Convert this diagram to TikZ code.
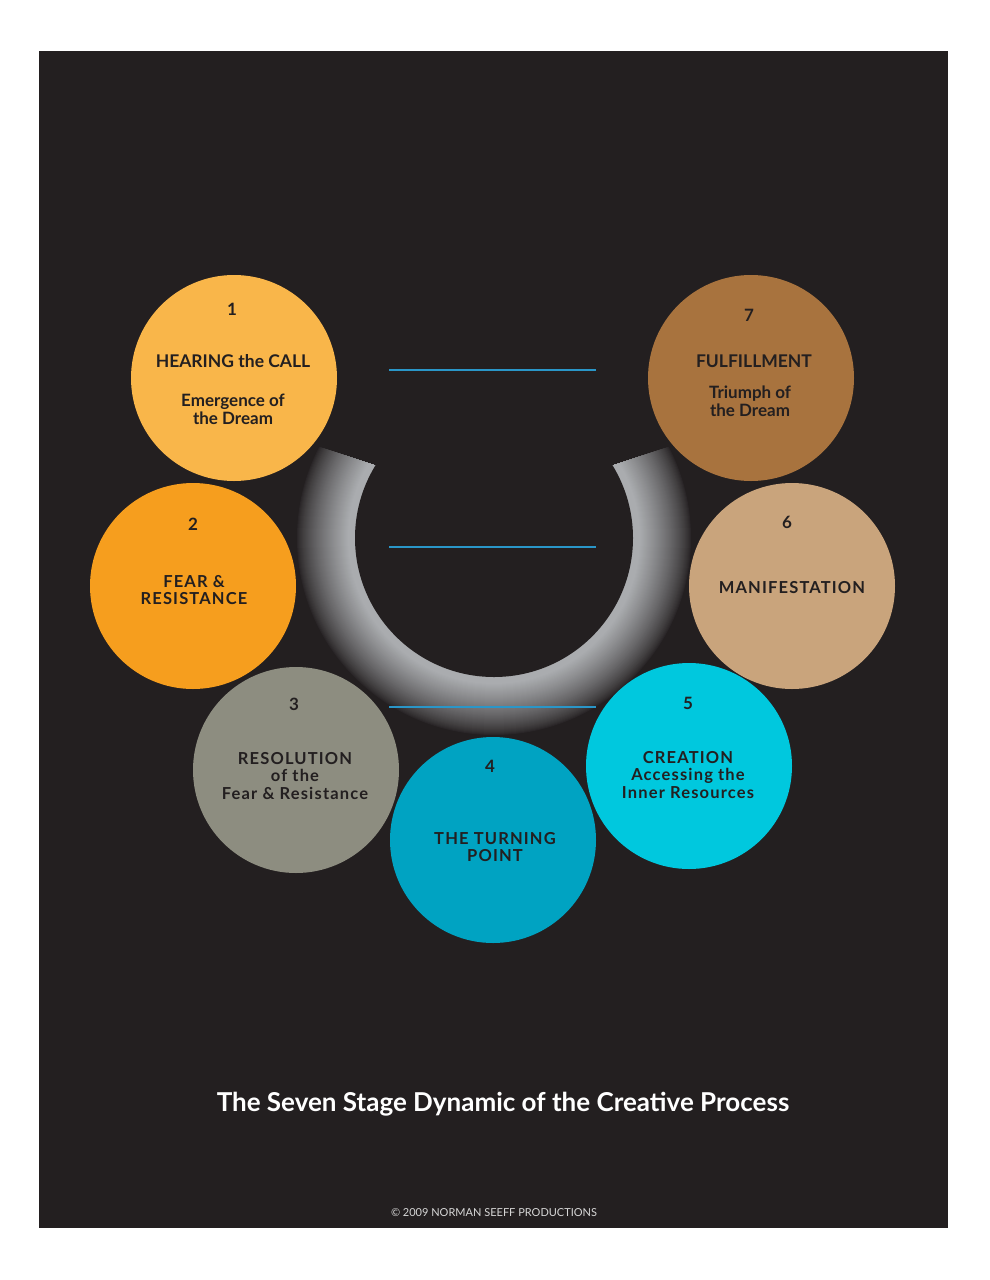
\documentclass[tikz,border=0pt]{standalone}
\usepackage{fontspec}
\setmainfont{Lato}
\newfontfamily\spaced[LetterSpace=7]{Lato}
\usepackage{xcolor}
\usepackage{tikz}
\usetikzlibrary{positioning}
\definecolor{bgdark}{RGB}{35,31,32}
\definecolor{ringgray}{RGB}{170,172,175}
\definecolor{lineblue}{RGB}{42,150,200}
\definecolor{stageone}{RGB}{249,182,74}
\definecolor{stagetwo}{RGB}{246,158,30}
\definecolor{stagethree}{RGB}{141,141,128}
\definecolor{stagefour}{RGB}{0,163,194}
\definecolor{stagefive}{RGB}{0,200,222}
\definecolor{stagesix}{RGB}{201,164,124}
\definecolor{stageseven}{RGB}{168,115,62}
\definecolor{copygray}{RGB}{215,215,215}
\tikzset{
  stage/.style={circle, minimum size=206pt, inner sep=0pt},
  num/.style={font=\bfseries\fontsize{17}{19}\selectfont, text=bgdark, inner sep=0pt},
  head/.style={font=\bfseries\fontsize{17.5}{20}\selectfont, text=bgdark, align=center, inner sep=0pt},
  sub/.style={font=\bfseries\fontsize{17}{18}\selectfont, text=bgdark, align=center, inner sep=0pt},
  wide/.style={font=\spaced\bfseries\fontsize{16.5}{17.5}\selectfont, text=bgdark, align=center, inner sep=0pt},
  guide/.style={lineblue, line width=1.4pt}
}
\begin{document}
\begin{tikzpicture}[x=1pt, y=-1pt]
  \fill[white] (0,0) rectangle (989,1280);
  \fill[bgdark] (39,51) rectangle (948,1228);
  % shaded ring, built from rings of mixed colour
  \begin{scope}
    \clip (250,424) -- (374,465) -- (614,465) -- (738,424) -- (738,760) -- (250,760) -- cycle;
    \foreach \i in {0,...,59}{
      \pgfmathsetmacro{\pct}{min(100,100*(\i/52)^0.75)}
      \fill[ringgray!\pct!bgdark] (494,538) circle (198-\i);
    }
  \end{scope}
  \fill[bgdark] (494,538) circle (139);
  \foreach \y in {370,547,707}
    \draw[guide] (389,\y) -- (596,\y);
  % stages
  \node[stage, fill=stageone] (s1) at (234,378) {};
  \node[stage, fill=stagetwo] (s2) at (193,586) {};
  \node[stage, fill=stagethree] (s3) at (296,770) {};
  \node[stage, fill=stagefour] (s4) at (493,840) {};
  \node[stage, fill=stagefive] (s5) at (689,766) {};
  \node[stage, fill=stagesix] (s6) at (792,586) {};
  \node[stage, fill=stageseven] (s7) at (751,378) {};
  \node[num] (n1) at (232,309) {1};
  \node[head] (h1) at (233,361) {HEARING the CALL};
  \node[sub] (t1) at (233,409) {Emergence of\\the Dream};
  \node[num] (n2) at (193,524) {2};
  \node[wide] (h2) at (194,590) {FEAR \&\\RESISTANCE};
  \node[num] (n3) at (294,704) {3};
  \node[wide] (h3) at (295,776) {RESOLUTION\\of the\\Fear \& Resistance};
  \node[num] (n4) at (490,766) {4};
  \node[wide] (h4) at (495,847) {THE TURNING\\POINT};
  \node[num] (n5) at (688,703) {5};
  \node[wide] (h5) at (688,775) {CREATION\\Accessing the\\Inner Resources};
  \node[num] (n6) at (787,522) {6};
  \node[wide] (h6) at (792,588) {MANIFESTATION};
  \node[num] (n7) at (749,315) {7};
  \node[head] (h7) at (754,361) {FULFILLMENT};
  \node[sub] (t7) at (750,401) {Triumph of\\the Dream};
  \node[font=\bfseries\fontsize{26}{29}\selectfont, text=white] (title) at (503,1104) {The Seven Stage Dynamic of the Creative Process};
  \node[font=\fontsize{11}{13}\selectfont, text=copygray] (copy) at (494,1213) {\textcopyright{} 2009 NORMAN SEEFF PRODUCTIONS};
\end{tikzpicture}
\end{document}
